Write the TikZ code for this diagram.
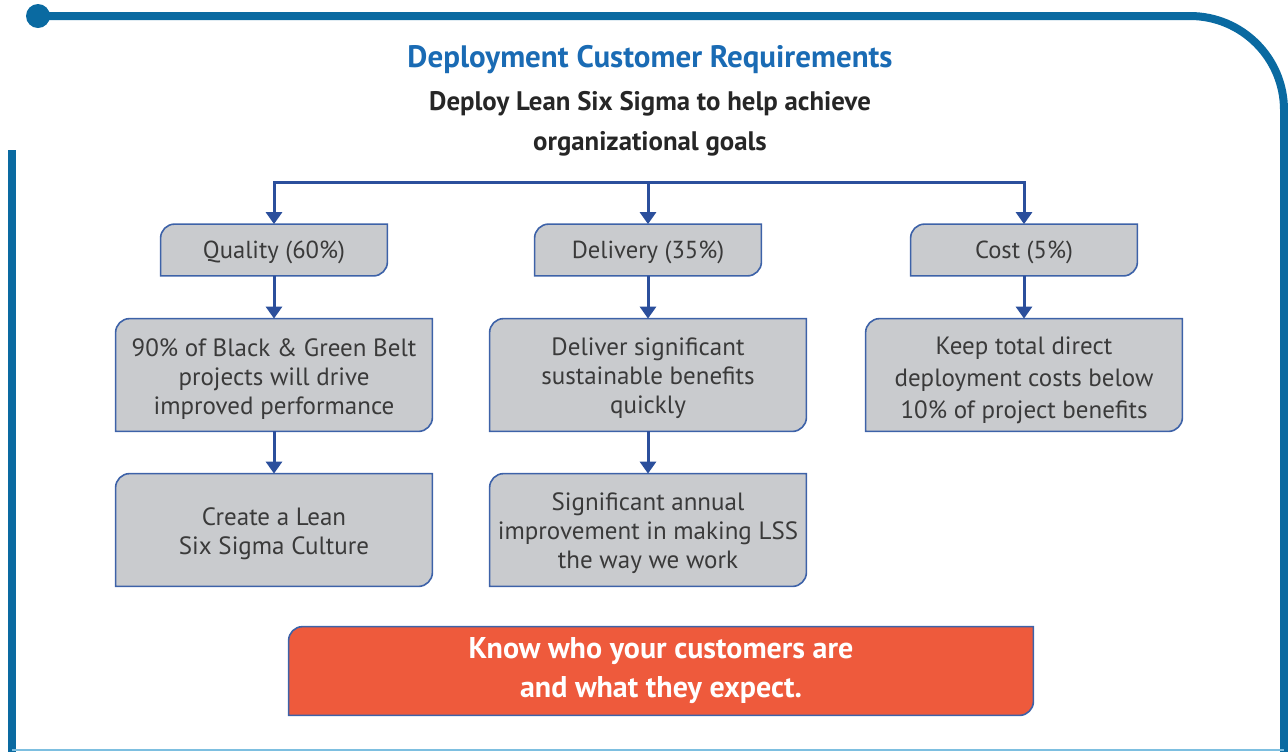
\documentclass[tikz,border=0pt]{standalone}
\usepackage{fontspec}
\setmainfont{PT Sans}
\usetikzlibrary{arrows.meta,backgrounds}

\definecolor{framecol}{HTML}{0A6AA1}
\definecolor{titlecol}{HTML}{1A6BB4}
\definecolor{linkcol}{HTML}{2B4F9C}
\definecolor{boxfill}{HTML}{C9CBCE}
\definecolor{boxedge}{HTML}{3D62A8}
\definecolor{alertcol}{HTML}{EE5A3C}
\definecolor{rulecol}{HTML}{7DBFE0}
\definecolor{bodycol}{HTML}{3A3A3A}

\tikzset{
  goalbox/.style={minimum width=113pt, minimum height=25.5pt, inner sep=0pt,
    text height=11pt, text depth=2.5pt,
    text=bodycol, font=\fontsize{12.3}{14.5}\selectfont},
  stepbox/.style={minimum width=158pt, minimum height=56pt, inner sep=0pt,
    align=center, text=bodycol, font=\fontsize{12.5}{14.5}\selectfont},
  link/.style={draw=linkcol, line width=1.5pt, -{Triangle[width=8pt,length=6pt]}},
  boxline/.style={draw=boxedge, line width=0.8pt}
}

% box with rounded top-left and bottom-right corners
\newcommand{\cutbox}[2]{%
  \draw[boxline, fill=#2] ([yshift=-7pt]#1.north west)
    arc[start angle=180, end angle=90, radius=7pt] -- (#1.north east)
    -- ([yshift=7pt]#1.south east)
    arc[start angle=0, end angle=-90, radius=7pt] -- (#1.south west) -- cycle;}

\begin{document}
\begin{tikzpicture}[x=0.5pt, y=-0.5pt]
  \useasboundingbox (0,0) rectangle (1288,751);

  % frame
  \fill[framecol] (38,16) circle[radius=6pt];
  \draw[framecol, line width=4pt] (38,16) -- (1190,16)
    arc[start angle=90, end angle=0, radius=47pt] -- (1284,760);
  \draw[framecol, line width=4pt] (12,150) -- (12,760);
  \draw[rulecol, line width=1pt] (12,749.5) -- (1284,749.5);

  % headings
  \node[text=titlecol, font=\bfseries\fontsize{15.5}{18}\selectfont] (title) at (650,60)
    {Deployment Customer Requirements};
  \node[align=center, text=black!85, font=\bfseries\fontsize{13.4}{20}\selectfont] (goal) at (650,124)
    {Deploy Lean Six Sigma to help achieve\\organizational goals};

  % first level
  \node[goalbox] (q) at (274,250) {Quality (60\%)};
  \node[goalbox] (d) at (648,250) {Delivery (35\%)};
  \node[goalbox] (c) at (1024,250) {Cost (5\%)};

  % second level
  \node[stepbox] (qa) at (274,375) {\\[-2pt]90\% of Black \& Green Belt\\projects will drive\\improved performance};
  \node[stepbox] (da) at (648,375) {\\[-2pt]Deliver significant\\sustainable benefits\\quickly};
  \node[stepbox, font=\fontsize{12.5}{16}\selectfont] (ca) at (1024,375)
    {\\[-2pt]Keep total direct\\deployment costs below\\10\% of project benefits};

  % third level
  \node[stepbox] (qb) at (274,530) {\\[-2pt]Create a Lean\\Six Sigma Culture};
  \node[stepbox] (db) at (648,530) {\\[-2pt]Significant annual\\improvement in making LSS\\the way we work};

  % message
  \node[minimum width=372pt, minimum height=44pt, inner sep=0pt, align=center, text=white,
    font=\bfseries\fontsize{15}{19.5}\selectfont] (msg) at (661,671)
    {Know who your customers are\\and what they expect.};

  \begin{pgfonlayer}{background}
    \foreach \b in {q,d,c,qa,da,ca,qb,db} {\cutbox{\b}{boxfill}}
    \cutbox{msg}{alertcol}
  \end{pgfonlayer}

  % connectors
  \coordinate (split) at (648,182);
  \draw[link] (split) -| (q.north);
  \draw[link] (split) -- (d.north);
  \draw[link] (split) -| (c.north);
  \draw[link] (q) -- (qa);
  \draw[link] (qa) -- (qb);
  \draw[link] (d) -- (da);
  \draw[link] (da) -- (db);
  \draw[link] (c) -- (ca);
\end{tikzpicture}
\end{document}
